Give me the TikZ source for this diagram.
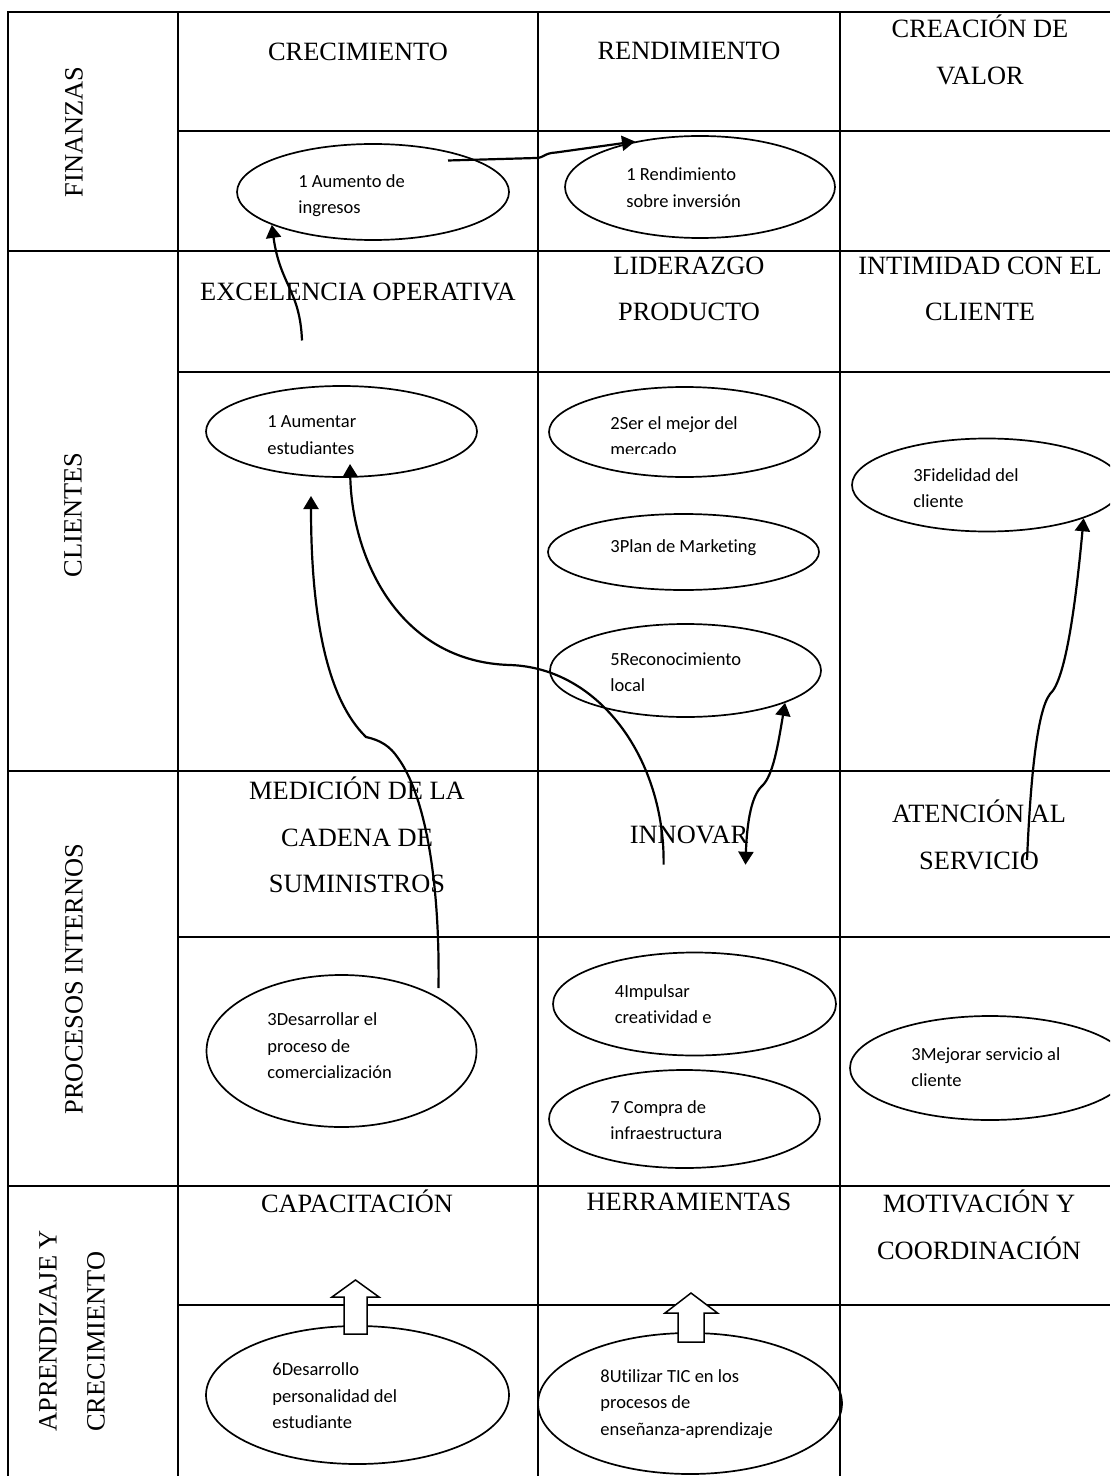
\documentclass[tikz,border=0pt]{standalone}
\usepackage{fontspec}
\setmainfont{Liberation Serif}
\newfontfamily\calibri[Ligatures=NoCommon]{Carlito}
\usetikzlibrary{arrows.meta, shapes.geometric}
\tikzset{
  encabezado/.style={font=\fontsize{13.2}{23.25}\selectfont, align=center},
  perspectiva/.style={rotate=90, font=\fontsize{13.2}{24}\selectfont},
  objetivo/.style={ellipse, draw, line width=0.85pt, inner sep=0pt},
  etiqueta/.style={font=\calibri\fontsize{9.25}{13.25}\selectfont, align=left, anchor=west, inner sep=0pt},
  enlace/.style={line width=1.1pt, -{Triangle[width=7.5pt, length=6.5pt]}},
  doble/.style={line width=1.1pt, {Triangle[width=7.5pt, length=6.5pt]}-{Triangle[width=7.5pt, length=6.5pt]}},
  bloque/.style={draw, fill=white, line width=0.75pt, line join=miter},
  regla/.style={line width=1.35pt},
}

\begin{document}
\begin{tikzpicture}[x=0.5pt, y=-0.5pt]
  \clip (0,0) rectangle (1110,1476);

  % Table frame.
  \draw[regla] (8,1476) -- (8,12) -- (1110,12);
  \foreach \x in {178,538,840}
    \draw[regla] (\x,12) -- (\x,1476);
  \foreach \y in {251,771,1186}
    \draw[regla] (8,\y) -- (1110,\y);
  \foreach \y in {131,372,937,1305}
    \draw[regla] (178,\y) -- (1110,\y);

  % Perspectives.
  \node[perspectiva] (fin) at (74,132) {FINANZAS};
  \node[perspectiva] (cli) at (73,515) {CLIENTES};
  \node[perspectiva] (pro) at (74,979) {PROCESOS INTERNOS};
  \node[perspectiva, align=left, anchor=west, inner sep=0pt] (apr) at (72,1432) {APRENDIZAJE Y\\CRECIMIENTO};

  % Column headers.
  \node[encabezado] (h11) at (358,51.5) {CRECIMIENTO};
  \node[encabezado] (h12) at (689,51) {RENDIMIENTO};
  \node[encabezado] (h13) at (980,50) {CREACIÓN DE\\VALOR};
  \node[encabezado] (h21) at (358,292) {EXCELENCIA OPERATIVA};
  \node[encabezado] (h22) at (689,289) {LIDERAZGO\\PRODUCTO};
  \node[encabezado] (h23) at (980,289) {INTIMIDAD CON EL\\CLIENTE};
  \node[encabezado] (h31) at (357,835) {MEDICIÓN DE LA\\CADENA DE\\SUMINISTROS};
  \node[encabezado] (h32) at (689,835) {INNOVAR};
  \node[encabezado] (h33) at (979,835) {ATENCIÓN AL\\SERVICIO};
  \node[encabezado] (h41) at (357,1201.5) {CAPACITACIÓN};
  \node[encabezado] (h42) at (689,1201.5) {HERRAMIENTAS};
  \node[encabezado] (h43) at (979,1225) {MOTIVACIÓN Y\\COORDINACIÓN};

  % Objectives.
  \node[objetivo, minimum width=136pt, minimum height=48pt] (ingresos) at (373,192) {};
  \node[objetivo, minimum width=135pt, minimum height=51pt] (inversion) at (700,187) {};
  \node[objetivo, minimum width=135.5pt, minimum height=45.5pt] (estudiantes) at (341.5,431.5) {};
  \node[objetivo, minimum width=135.5pt, minimum height=45pt] (mejor) at (684.5,432) {};
  \node[objetivo, minimum width=135.5pt, minimum height=38pt] (marketing) at (683.5,552) {};
  \node[objetivo, minimum width=135.5pt, minimum height=46.5pt] (reconocimiento) at (685.5,670.5) {};
  \node[objetivo, minimum width=135pt, minimum height=46.5pt] (fidelidad) at (987,485) {};
  \node[objetivo, minimum width=135pt, minimum height=76pt] (comercializacion) at (341.5,1051) {};
  \node[objetivo, minimum width=141.5pt, minimum height=51.5pt] (creatividad) at (694.5,1004) {};
  \node[objetivo, minimum width=135.5pt, minimum height=49pt] (infraestructura) at (684.5,1119) {};
  \node[objetivo, minimum width=140pt, minimum height=52pt] (servicio) at (990,1068) {};
  \node[objetivo, minimum width=151.5pt, minimum height=69pt] (personalidad) at (357.5,1395) {};
  \node[objetivo, minimum width=152pt, minimum height=70.5pt] (tic) at (690,1403.5) {};

  \node[etiqueta] (t-ingresos) at (298,195.5) {1 Aumento de\\ingresos};
  \node[etiqueta] (t-inversion) at (626,187.5) {1 Rendimiento\\sobre inversión};
  \node[etiqueta] (t-estudiantes) at (267,435) {1 Aumentar\\estudiantes};
  \begin{scope}
    \clip (540,380) rectangle (838,453.2);
    \node[etiqueta] (t-mejor) at (610,436) {2Ser el mejor del\\mercado};
  \end{scope}
  \node[etiqueta] (t-marketing) at (610,548) {3Plan de Marketing};
  \node[etiqueta] (t-reconocimiento) at (610,672) {5Reconocimiento\\local};
  \node[etiqueta] (t-fidelidad) at (913,488) {3Fidelidad del\\cliente};
  \node[etiqueta] (t-comercializacion) at (267,1046) {3Desarrollar el\\proceso de\\comercialización};
  \node[etiqueta] (t-creatividad) at (614.5,1004) {4Impulsar\\creatividad e};
  \node[etiqueta] (t-infraestructura) at (610,1120) {7 Compra de\\infraestructura};
  \node[etiqueta] (t-servicio) at (911,1067) {3Mejorar servicio al\\cliente};
  \node[etiqueta] (t-personalidad) at (272,1396) {6Desarrollo\\personalidad del\\estudiante};
  \node[etiqueta] (t-tic) at (600,1404) {8Utilizar TIC en los\\procesos de\\enseñanza-aprendizaje};

  % Free ends of the links.
  \coordinate (a0) at (448,160.5);
  \coordinate (b0) at (302,340.5);
  \coordinate (c0) at (438.5,988);
  \coordinate (c1) at (311,496);
  \coordinate (d0) at (663.6,864.7);
  \coordinate (d1) at (350,464);
  \coordinate (e0) at (745.5,864.7);
  \coordinate (f0) at (1027,860);

  % Cause-effect links.
  \draw[enlace] (a0) -- (536,158) .. controls (544,158) and (544,153) .. (556,152.5) -- (inversion.145);
  \draw[enlace] (b0) .. controls (300,290) and (280,285) .. (ingresos.198);
  \draw[enlace] (c0) .. controls (440,880) and (425,795) .. (398,758)
    .. controls (390,746) and (380,740) .. (366,737)
    .. controls (328,700) and (311,620) .. (c1);
  \draw[enlace] (d0) .. controls (665,760) and (600,668) .. (510,665)
    .. controls (400,662) and (352,560) .. (d1);
  \draw[doble] (e0) .. controls (747,820) and (752,795) .. (762,786)
    .. controls (773,776) and (778,745) .. (reconocimiento.-18);
  \draw[enlace] (f0) .. controls (1030,790) and (1036,712) .. (1050,694)
    .. controls (1066,680) and (1076,600) .. (fidelidad.-19);

  % Block arrows.
  \draw[bloque] (344,1334) -- (344,1297) -- (332,1297) -- (355.5,1280) -- (379,1297) -- (367,1297) -- (367,1334) -- cycle;
  \draw[bloque] (678,1342) -- (678,1313) -- (665,1313) -- (691,1293) -- (717.5,1313) -- (704,1313) -- (704,1342) -- cycle;
\end{tikzpicture}
\end{document}
